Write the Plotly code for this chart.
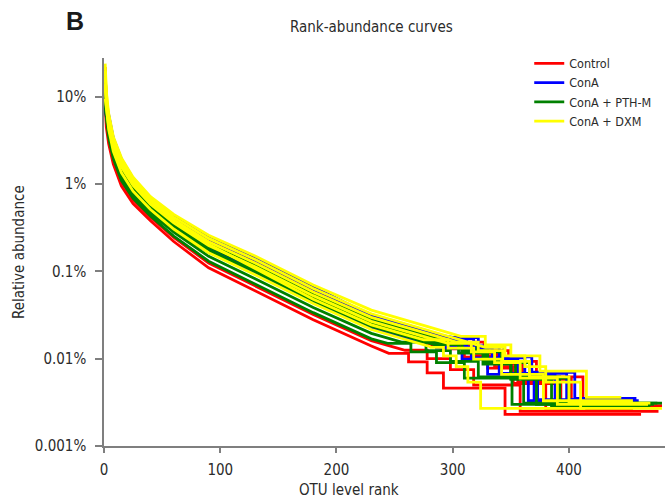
import plotly.graph_objects as go

# ---------------- data ----------------
HEAD_RANKS = [1, 2, 4, 8, 15, 25, 40, 60, 90, 130, 180, 230, 280]
TAIL_COUNTS = [5, 4, 3, 2, 1]          # read counts of the rare OTUs in the tail

GROUPS = ["Control", "ConA", "ConA + PTH-M", "ConA + DXM"]
COLORS = ["#FF0000", "#0000FF", "#008000", "#FFFF00"]

# relative abundance (%) at HEAD_RANKS, one row per sample
control_head = [
    [8.0, 4.5, 2.90, 1.70, 0.95, 0.600, 0.380, 0.220, 0.110, 0.0600, 0.0280, 0.0140, 0.0090],
    [22.0, 7.0, 3.27, 1.89, 1.06, 0.665, 0.419, 0.245, 0.125, 0.0689, 0.0321, 0.0161, 0.0104],
    [12.0, 7.5, 4.34, 2.44, 1.38, 0.848, 0.560, 0.390, 0.219, 0.1250, 0.0510, 0.0240, 0.0148],
    [16.0, 8.5, 5.10, 2.82, 1.60, 0.975, 0.594, 0.363, 0.201, 0.1140, 0.0532, 0.0271, 0.0174],
    [10.0, 8.0, 5.75, 3.14, 1.79, 1.080, 0.653, 0.404, 0.229, 0.1310, 0.0610, 0.0312, 0.0200],
    [18.0, 9.0, 4.71, 2.62, 1.49, 0.910, 0.557, 0.338, 0.184, 0.1040, 0.0485, 0.0247, 0.0158],
]
cona_head = [
    [9.0, 7.5, 6.24, 3.37, 1.93, 1.160, 0.697, 0.434, 0.249, 0.1430, 0.0668, 0.0310, 0.0195],
    [14.0, 9.0, 5.90, 3.20, 1.83, 1.100, 0.665, 0.412, 0.235, 0.1340, 0.0625, 0.0320, 0.0205],
    [7.0, 6.0, 5.31, 2.92, 1.66, 1.010, 0.614, 0.376, 0.209, 0.1190, 0.0556, 0.0284, 0.0182],
    [11.0, 7.5, 5.00, 2.85, 1.62, 0.990, 0.600, 0.368, 0.205, 0.1160, 0.0540, 0.0276, 0.0177],
    [13.0, 8.0, 4.80, 2.66, 1.50, 0.920, 0.560, 0.340, 0.186, 0.1060, 0.0495, 0.0250, 0.0160],
    [8.5, 6.5, 4.40, 2.48, 1.40, 0.860, 0.530, 0.318, 0.172, 0.0965, 0.0450, 0.0228, 0.0146],
]
pthm_head = [
    [15.0, 6.0, 3.40, 1.96, 1.10, 0.689, 0.431, 0.254, 0.131, 0.0721, 0.0337, 0.0169, 0.0109],
    [9.0, 5.8, 3.85, 2.19, 1.23, 0.764, 0.475, 0.282, 0.149, 0.0826, 0.0386, 0.0195, 0.0125],
    [20.0, 8.0, 4.17, 2.35, 1.15, 0.720, 0.450, 0.290, 0.165, 0.1040, 0.0485, 0.0247, 0.0158],
    [12.0, 7.0, 4.52, 2.53, 1.43, 0.879, 0.540, 0.326, 0.177, 0.0993, 0.0463, 0.0235, 0.0151],
    [7.5, 6.2, 4.90, 2.72, 1.54, 0.942, 0.575, 0.350, 0.192, 0.1090, 0.0508, 0.0258, 0.0166],
    [10.5, 7.8, 5.20, 2.95, 1.68, 1.020, 0.620, 0.380, 0.212, 0.1210, 0.0565, 0.0288, 0.0185],
]
dxm_head = [
    [20.0, 11.0, 6.50, 3.50, 2.00, 1.200, 0.720, 0.450, 0.260, 0.1500, 0.0700, 0.0360, 0.0230],
    [17.0, 10.0, 6.00, 3.26, 1.86, 1.120, 0.675, 0.419, 0.239, 0.1370, 0.0638, 0.0327, 0.0209],
    [13.0, 9.0, 5.53, 3.03, 1.72, 1.040, 0.634, 0.390, 0.219, 0.1250, 0.0582, 0.0298, 0.0191],
    [24.0, 12.0, 5.20, 2.80, 1.58, 0.970, 0.590, 0.360, 0.198, 0.1130, 0.0528, 0.0268, 0.0172],
    [9.5, 7.5, 4.65, 3.20, 1.84, 1.100, 0.660, 0.390, 0.205, 0.1080, 0.0480, 0.0244, 0.0156],
    [14.0, 8.0, 4.25, 2.38, 1.35, 0.830, 0.512, 0.306, 0.164, 0.0915, 0.0428, 0.0216, 0.0138],
]

# abundance (%) of a single read in each sample (lowest step of the tail)
control_single = [0.0023, 0.0025, 0.0026, 0.0029, 0.0031, 0.0027]
cona_single = [0.0035, 0.0034, 0.0033, 0.0032, 0.0034, 0.0033]
pthm_single = [0.0030, 0.0031, 0.0030, 0.0029, 0.0031, 0.0030]
dxm_single = [0.0036, 0.0027, 0.0031, 0.0030, 0.0033, 0.0027]

# first rank reaching each of TAIL_COUNTS, then last rank (number of OTUs)
control_tail = [
    [245, 262, 278, 292, 345, 462],
    [259, 278, 298, 318, 358, 477],
    [291, 310, 330, 352, 393, 455],
    [300, 318, 338, 360, 402, 480],
    [308, 327, 348, 372, 412, 448],
    [297, 316, 336, 356, 380, 440],
]
cona_tail = [
    [300, 322, 344, 368, 405, 458],
    [298, 318, 340, 362, 398, 452],
    [291, 312, 334, 356, 388, 460],
    [289, 310, 330, 350, 373, 455],
    [272, 294, 316, 340, 370, 446],
    [265, 286, 308, 330, 365, 440],
]
pthm_tail = [
    [244, 264, 286, 310, 351, 473],
    [256, 277, 298, 322, 361, 480],
    [290, 308, 328, 350, 372, 466],
    [284, 305, 326, 350, 385, 470],
    [288, 308, 330, 354, 392, 476],
    [301, 321, 342, 366, 400, 462],
]
dxm_tail = [
    [307, 328, 350, 375, 415, 445],
    [328, 345, 362, 380, 410, 480],
    [303, 322, 343, 366, 400, 470],
    [296, 316, 336, 358, 390, 468],
    [275, 296, 318, 342, 378, 455],
    [281, 292, 303, 313, 324, 414],
]

HEADS = [control_head, cona_head, pthm_head, dxm_head]
SINGLES = [control_single, cona_single, pthm_single, dxm_single]
TAILS = [control_tail, cona_tail, pthm_tail, dxm_tail]

Y_TICKS = [0.001, 0.01, 0.1, 1, 10]
Y_TICKTEXT = ["0.001%", "0.01%", "0.1%", "1%", "10%"]
X_TICKS = [0, 100, 200, 300, 400]

FONT = "DejaVu Sans Condensed, DejaVu Sans, sans-serif"
TXT = "#2b2b2b"
AX = "#7f7f7f"


def sample_path(head, single, tail):
    first_tail = tail[0]
    xs, ys = [], []
    for r, v in zip(HEAD_RANKS, head):
        if r < first_tail:
            xs.append(r)
            ys.append(v)
    levels = [c * single for c in TAIL_COUNTS]
    starts = tail[:-1]
    end = tail[-1]
    for i, (r, lv) in enumerate(zip(starts, levels)):
        if i > 0:
            xs.append(r)
            ys.append(levels[i - 1])
        xs.append(r)
        ys.append(lv)
    xs.append(end)
    ys.append(levels[-1])
    return xs, ys


fig = go.Figure()
for g, name in enumerate(GROUPS):
    for s in range(len(HEADS[g])):
        xs, ys = sample_path(HEADS[g][s], SINGLES[g][s], TAILS[g][s])
        fig.add_trace(go.Scatter(
            x=xs, y=ys, mode="lines", name=name,
            legendgroup=name, showlegend=(s == 0),
            line=dict(color=COLORS[g], width=2.8),
            hoverinfo="skip",
        ))

fig.update_layout(
    width=671, height=504,
    margin=dict(l=104, r=6, t=58, b=58),
    paper_bgcolor="white", plot_bgcolor="white",
    font=dict(family=FONT, color=TXT, size=15),
    showlegend=True,
    legend=dict(
        x=0.758, y=1.024, xanchor="left", yanchor="top",
        bgcolor="rgba(0,0,0,0)", font=dict(size=12.5, family=FONT, color=TXT),
        tracegroupgap=0,
    ),
    xaxis=dict(
        range=[0, 482.6], tickvals=X_TICKS, showgrid=False, zeroline=False,
        showline=True, linecolor=AX, linewidth=1.5,
        ticks="outside", ticklen=5, tickwidth=1.5, tickcolor=AX,
        tickfont=dict(size=15, family=FONT, color=TXT), ticklabelstandoff=4,
    ),
    yaxis=dict(
        type="log", range=[-3, 1.445], tickvals=Y_TICKS, ticktext=Y_TICKTEXT,
        showgrid=False, zeroline=False,
        showline=True, linecolor=AX, linewidth=1.5,
        ticks="outside", ticklen=7, tickwidth=1.5, tickcolor=AX,
        tickfont=dict(size=15, family=FONT, color=TXT), ticklabelstandoff=6,
    ),
    annotations=[
        dict(text="Rank-abundance curves", xref="paper", yref="paper",
             x=0.4777, y=1.0799, xanchor="center", yanchor="middle",
             showarrow=False, font=dict(size=15, family=FONT, color=TXT)),
        dict(text="<b>B</b>", xref="paper", yref="paper",
             x=-0.0713, y=1.0954, xanchor="left", yanchor="middle",
             showarrow=False, font=dict(size=25, family="Liberation Sans, Arial, sans-serif", color="#1a1a1a")),
        dict(text="OTU level rank", xref="paper", yref="paper",
             x=0.4367, y=-0.1134, xanchor="center", yanchor="middle",
             showarrow=False, font=dict(size=15, family=FONT, color=TXT)),
        dict(text="Relative abundance", xref="paper", yref="paper",
             x=-0.1515, y=0.5, xanchor="center", yanchor="middle", textangle=-90,
             showarrow=False, font=dict(size=15, family=FONT, color=TXT)),
    ],
)

fig.write_html("out.html")
